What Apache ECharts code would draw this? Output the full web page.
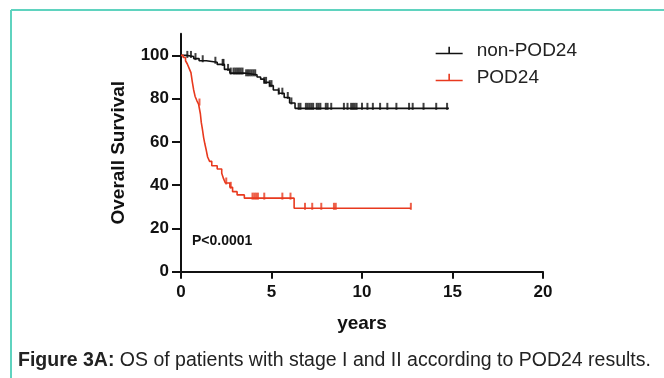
<!DOCTYPE html>
<html><head><meta charset="utf-8">
<script src="https://cdn.jsdelivr.net/npm/echarts@6/dist/echarts.min.js"></script>
<style>html,body{margin:0;padding:0;background:#fff}#c{width:664px;height:378px}</style>
</head><body><div id="c"></div>
<script>
// ---- data ----
const nonTimes = [0, 0.3, 0.7, 1.0, 1.4, 2.0, 2.4, 2.7, 3.5, 4.2, 4.4, 4.6, 4.9, 5.1, 5.4, 5.7, 6.0, 6.3, 14.8];
const nonSurv  = [100, 99.5, 98.5, 97.5, 96.8, 95.8, 93.5, 91.8, 91, 90, 89, 87.5, 86, 84, 82.5, 80.5, 78, 75.5, 75.5];
const nonCensor = [0.35, 0.55, 0.8, 1.2, 1.9, 2.3, 2.35, 2.6, 2.75, 2.9, 3.0, 3.1, 3.2, 3.3, 3.4, 3.6, 3.7, 3.8, 3.9, 4.0, 4.1,
  4.6, 4.7, 4.9, 5.0, 5.4, 5.6, 5.9, 6.1, 6.5, 6.6, 6.9, 7.0, 7.1, 7.2, 7.3, 7.5, 7.6, 7.7, 8.0, 8.1, 8.3,
  9.0, 9.2, 9.4, 9.5, 9.6, 9.7, 10.0, 10.3, 10.6, 11.0, 11.4, 11.9, 12.6, 12.8, 13.4, 14.1, 14.7];
const podTimes = [0, 0.12, 0.25, 0.35, 0.45, 0.55, 0.62, 0.7, 0.78, 0.88, 0.97, 1.07, 1.12, 1.18, 1.25, 1.32, 1.4, 1.47, 1.58, 1.7,
  2.0, 2.25, 2.35, 2.45, 2.7, 2.85, 3.1, 3.5, 6.25, 12.7];
const podSurv  = [100, 99, 97.5, 96, 94, 92, 88, 84, 81, 79, 77.5, 73, 69, 66, 62, 59, 56, 53, 51, 49,
  47.5, 45.5, 43, 41, 39, 37, 35.5, 34, 29.3, 29.3];
const podCensor = [1.02, 2.5, 2.75, 3.95, 4.05, 4.15, 4.25, 4.6, 5.6, 6.05, 6.85, 7.25, 7.75, 8.45, 8.55, 12.7];
const seriesNames = ['non-POD24', 'POD24'];
const xTicks = [0, 5, 10, 15, 20];
const yTicks = [0, 20, 40, 60, 80, 100];
const pText = 'P<0.0001';

function survAt(ts, ss, t) { let v = ss[0]; for (let i = 0; i < ts.length; i++) { if (ts[i] <= t) v = ss[i]; } return v; }
const pair = (a, b) => a.map((t, i) => [t, b[i]]);
const cens = (c, ts, ss) => c.map(t => [t, survAt(ts, ss, t)]);

const FONT = '"Liberation Sans", Arial, sans-serif';
const BLACK = '#111';
const RED = '#e8391e';
const tickPath = 'path://M0,0h1v1H0z';
const legendIcon = 'path://M0,7h27v1.5H0z M12.7,1h1.6v7H12.7z';

const chart = echarts.init(document.getElementById('c'), null, { renderer: 'canvas' });
chart.setOption({
  backgroundColor: '#fff',
  animation: false,
  grid: { left: 181, right: 121, top: 33.7, bottom: 106.3 },
  legend: {
    right: 82, top: 36, orient: 'vertical', itemGap: 8, itemWidth: 27, itemHeight: 9,
    textStyle: { fontFamily: FONT, fontSize: 19, color: '#222', padding: [0, 0, 0, 9] },
    data: [
      { name: seriesNames[0], icon: legendIcon, itemStyle: { color: BLACK } },
      { name: seriesNames[1], icon: legendIcon, itemStyle: { color: RED } }
    ]
  },
  xAxis: {
    type: 'value', min: 0, max: 20, interval: 5,
    name: 'years', nameLocation: 'middle', nameGap: 43,
    nameTextStyle: { fontFamily: FONT, fontSize: 19, fontWeight: 'bold', color: '#111' },
    axisLine: { onZero: false, lineStyle: { color: '#111', width: 2 } },
    axisTick: { show: true, length: 7, lineStyle: { width: 2, color: '#111' } },
    axisLabel: { fontFamily: FONT, fontSize: 17, fontWeight: 'bold', color: '#111', margin: 12, customValues: xTicks },
    splitLine: { show: false }
  },
  yAxis: {
    type: 'value', min: 0, max: 110,
    name: 'Overall Survival', nameLocation: 'middle', nameGap: 53, nameRotate: 90,
    nameTextStyle: { fontFamily: FONT, fontSize: 19, fontWeight: 'bold', color: '#111' },
    axisLine: { show: true, lineStyle: { color: '#111', width: 2 } },
    axisTick: { show: true, length: 9, lineStyle: { width: 2, color: '#111' }, customValues: yTicks },
    axisLabel: { fontFamily: FONT, fontSize: 17, fontWeight: 'bold', color: '#111', margin: 12, customValues: yTicks },
    splitLine: { show: false }
  },
  series: [
    { name: seriesNames[0], type: 'line', step: 'end', data: pair(nonTimes, nonSurv), symbol: 'none',
      lineStyle: { color: BLACK, width: 1.6 }, itemStyle: { color: BLACK }, z: 3 },
    { name: seriesNames[1], type: 'line', step: 'end', data: pair(podTimes, podSurv), symbol: 'none',
      lineStyle: { color: RED, width: 1.6 }, itemStyle: { color: RED }, z: 3 },
    { name: seriesNames[0], type: 'scatter', data: cens(nonCensor, nonTimes, nonSurv), symbol: tickPath,
      symbolSize: [2, 7], symbolOffset: [0, -2], itemStyle: { color: BLACK }, z: 4, silent: true },
    { name: seriesNames[1], type: 'scatter', data: cens(podCensor, podTimes, podSurv), symbol: tickPath,
      symbolSize: [2, 7], symbolOffset: [0, -2], itemStyle: { color: RED }, z: 4, silent: true }
  ],
  graphic: [
    { type: 'line', shape: { x1: 11, y1: 10, x2: 664, y2: 10 }, style: { stroke: '#5fd3bf', lineWidth: 2 } },
    { type: 'line', shape: { x1: 11, y1: 10, x2: 11, y2: 378 }, style: { stroke: '#5fd3bf', lineWidth: 2 } },
    { type: 'text', left: 192, top: 234, style: { text: pText, font: 'bold 14px ' + FONT, fill: '#111' } },
    { type: 'text', left: 18, top: 351, style: {
        text: '{b|Figure 3A:} OS of patients with stage I and II according to POD24 results.',
        font: '19.5px ' + FONT, fill: '#222',
        rich: { b: { fontFamily: FONT, fontSize: 19.5, fontWeight: 'bold', fill: '#222' } } } }
  ]
});
</script></body></html>
